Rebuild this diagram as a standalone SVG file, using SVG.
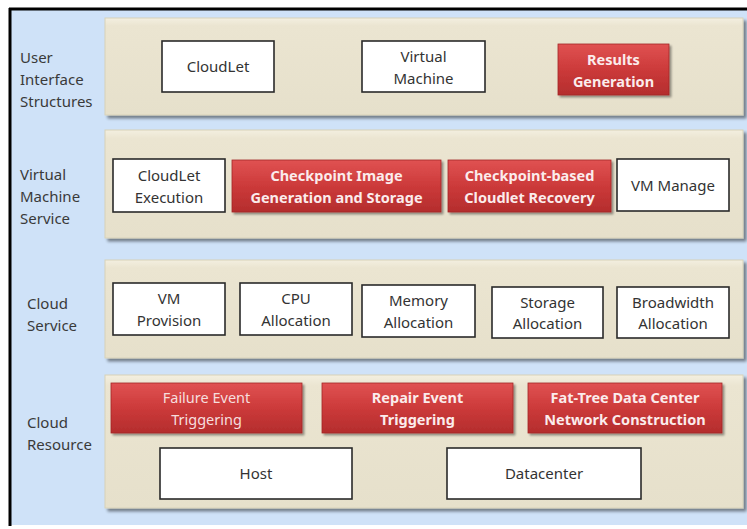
<svg xmlns="http://www.w3.org/2000/svg" width="747" height="529" viewBox="0 0 747 529">
  <style>
    .lbl { font-family: "Noto Sans", "Open Sans", sans-serif; font-size: 15px; fill: #3a3a3a; }
    .wtxt { font-family: "Noto Sans", "Open Sans", sans-serif; font-size: 15px; fill: #333333; text-anchor: middle; }
    .rtxt { font-family: "Noto Sans", "Open Sans", sans-serif; font-size: 14.5px; font-weight: bold; fill: #fbecec; text-anchor: middle; }
    .rtxt-light { font-family: "Noto Sans", "Open Sans", sans-serif; font-size: 14.5px; fill: #f6dede; text-anchor: middle; }
    .band { fill: url(#bandGrad); stroke: #d8d2b8; stroke-width: 1; filter: url(#bandShadow); }
    .wbox { fill: #ffffff; stroke: #2a2a2a; stroke-width: 1.6; }
    .rbox { fill: url(#redGrad); stroke: #a32626; stroke-width: 0.8; filter: url(#redShadow); }
  </style>
  <defs>
    <linearGradient id="bandGrad" x1="0" y1="0" x2="0" y2="1">
      <stop offset="0" stop-color="#f3efe0"/>
      <stop offset="0.08" stop-color="#ebe5d1"/>
      <stop offset="1" stop-color="#e6e0cb"/>
    </linearGradient>
    <linearGradient id="redGrad" x1="0" y1="0" x2="0" y2="1">
      <stop offset="0" stop-color="#e05252"/>
      <stop offset="0.5" stop-color="#cc3a3a"/>
      <stop offset="1" stop-color="#b42d2d"/>
    </linearGradient>
    <filter id="bandShadow" x="-5%" y="-10%" width="112%" height="130%">
      <feGaussianBlur in="SourceAlpha" stdDeviation="1.5"/>
      <feOffset dx="3" dy="3" result="b"/>
      <feComponentTransfer><feFuncA type="linear" slope="0.45"/></feComponentTransfer>
      <feMerge><feMergeNode/><feMergeNode in="SourceGraphic"/></feMerge>
    </filter>
    <filter id="redShadow" x="-10%" y="-20%" width="125%" height="150%">
      <feGaussianBlur in="SourceAlpha" stdDeviation="1.2"/>
      <feOffset dx="2" dy="2" result="b"/>
      <feComponentTransfer><feFuncA type="linear" slope="0.4"/></feComponentTransfer>
      <feMerge><feMergeNode/><feMergeNode in="SourceGraphic"/></feMerge>
    </filter>
  </defs>

  <!-- page and frame -->
  <rect x="0" y="0" width="747" height="529" fill="#ffffff"/>
  <rect x="11" y="10" width="736" height="515" fill="#cfe2f8"/>
  <line x1="9" y1="9" x2="747" y2="9" stroke="#000000" stroke-width="3"/>
  <line x1="10" y1="8" x2="10" y2="526" stroke="#000000" stroke-width="3"/>

  <!-- layer labels -->
  <g id="label-ui">
    <text class="lbl" x="20" y="63">User</text>
    <text class="lbl" x="20" y="85">Interface</text>
    <text class="lbl" x="20" y="107">Structures</text>
  </g>
  <g id="label-vms">
    <text class="lbl" x="20" y="180">Virtual</text>
    <text class="lbl" x="20" y="202">Machine</text>
    <text class="lbl" x="20" y="224">Service</text>
  </g>
  <g id="label-cs">
    <text class="lbl" x="27" y="309">Cloud</text>
    <text class="lbl" x="27" y="331">Service</text>
  </g>
  <g id="label-cr">
    <text class="lbl" x="27" y="428">Cloud</text>
    <text class="lbl" x="27" y="450">Resource</text>
  </g>

  <!-- layer bands -->
  <g id="band-ui"><rect class="band" x="105" y="18" width="638" height="97"/></g>
  <g id="band-vms"><rect class="band" x="105" y="130" width="638" height="108"/></g>
  <g id="band-cs"><rect class="band" x="105" y="260" width="638" height="98"/></g>
  <g id="band-cr"><rect class="band" x="105" y="375" width="638" height="133"/></g>

  <!-- User Interface Structures -->
  <g id="cloudlet">
    <rect class="wbox" x="162" y="41" width="112" height="51"/>
    <text class="wtxt" x="218" y="72">CloudLet</text>
  </g>
  <g id="virtual-machine">
    <rect class="wbox" x="362" y="41" width="123" height="51"/>
    <text class="wtxt" x="423.5" y="62">Virtual</text>
    <text class="wtxt" x="423.5" y="84">Machine</text>
  </g>
  <g id="results-generation">
    <rect class="rbox" x="558" y="44" width="111" height="51"/>
    <text class="rtxt" x="613.5" y="65">Results</text>
    <text class="rtxt" x="613.5" y="87">Generation</text>
  </g>

  <!-- Virtual Machine Service -->
  <g id="cloudlet-execution">
    <rect class="wbox" x="113" y="159" width="112" height="53"/>
    <text class="wtxt" x="169" y="181">CloudLet</text>
    <text class="wtxt" x="169" y="202.5">Execution</text>
  </g>
  <g id="checkpoint-image">
    <rect class="rbox" x="232" y="160" width="209" height="52"/>
    <text class="rtxt" x="336.5" y="181">Checkpoint Image</text>
    <text class="rtxt" x="336.5" y="202.5">Generation and Storage</text>
  </g>
  <g id="checkpoint-recovery">
    <rect class="rbox" x="448" y="160" width="163" height="52"/>
    <text class="rtxt" x="529.5" y="181">Checkpoint-based</text>
    <text class="rtxt" x="529.5" y="202.5">Cloudlet Recovery</text>
  </g>
  <g id="vm-manage">
    <rect class="wbox" x="617" y="159" width="112" height="52"/>
    <text class="wtxt" x="673" y="190.5">VM Manage</text>
  </g>

  <!-- Cloud Service -->
  <g id="vm-provision">
    <rect class="wbox" x="113" y="283" width="112" height="52"/>
    <text class="wtxt" x="169" y="304">VM</text>
    <text class="wtxt" x="169" y="326">Provision</text>
  </g>
  <g id="cpu-allocation">
    <rect class="wbox" x="240" y="283" width="112" height="52"/>
    <text class="wtxt" x="296" y="304">CPU</text>
    <text class="wtxt" x="296" y="326">Allocation</text>
  </g>
  <g id="memory-allocation">
    <rect class="wbox" x="362" y="285" width="113" height="52"/>
    <text class="wtxt" x="418.5" y="306">Memory</text>
    <text class="wtxt" x="418.5" y="328">Allocation</text>
  </g>
  <g id="storage-allocation">
    <rect class="wbox" x="492" y="287" width="111" height="51"/>
    <text class="wtxt" x="547.5" y="307.5">Storage</text>
    <text class="wtxt" x="547.5" y="329">Allocation</text>
  </g>
  <g id="broadwidth-allocation">
    <rect class="wbox" x="617" y="287" width="112" height="51"/>
    <text class="wtxt" x="673" y="307.5">Broadwidth</text>
    <text class="wtxt" x="673" y="329">Allocation</text>
  </g>

  <!-- Cloud Resource -->
  <g id="failure-event">
    <rect class="rbox" x="111" y="383" width="191" height="50"/>
    <text class="rtxt-light" x="206.5" y="403">Failure Event</text>
    <text class="rtxt-light" x="206.5" y="425">Triggering</text>
  </g>
  <g id="repair-event">
    <rect class="rbox" x="322" y="383" width="191" height="50"/>
    <text class="rtxt" x="417.5" y="403">Repair Event</text>
    <text class="rtxt" x="417.5" y="425">Triggering</text>
  </g>
  <g id="fat-tree">
    <rect class="rbox" x="528" y="383" width="194" height="50"/>
    <text class="rtxt" x="625" y="403">Fat-Tree Data Center</text>
    <text class="rtxt" x="625" y="425">Network Construction</text>
  </g>
  <g id="host">
    <rect class="wbox" x="160" y="448" width="192" height="51"/>
    <text class="wtxt" x="256" y="479">Host</text>
  </g>
  <g id="datacenter">
    <rect class="wbox" x="447" y="448" width="194" height="51"/>
    <text class="wtxt" x="544" y="479">Datacenter</text>
  </g>
</svg>
